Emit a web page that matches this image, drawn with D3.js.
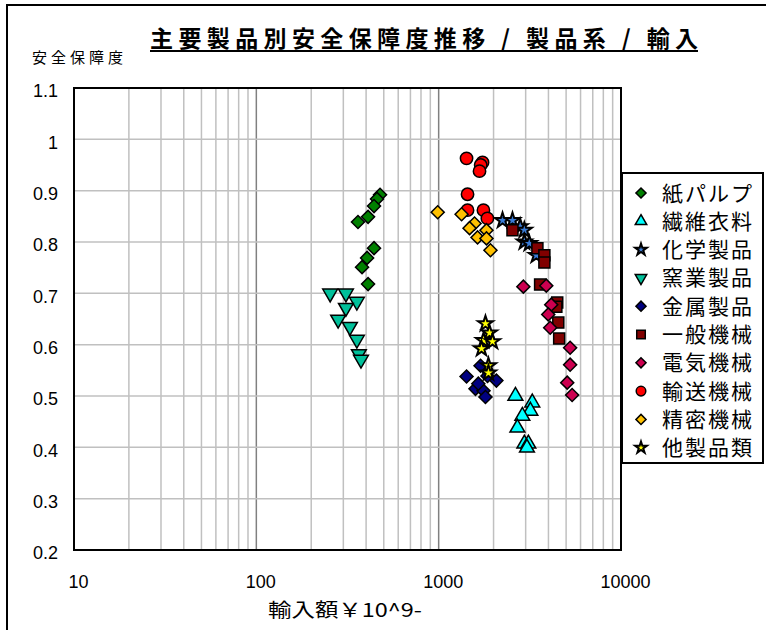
<!DOCTYPE html>
<html>
<head>
<meta charset="utf-8">
<script src="https://cdn.jsdelivr.net/npm/d3@7"></script>
<style>
  body { margin: 0; background: #fff; }
  text { font-family: "Liberation Sans", Arial, "Noto Sans CJK JP", sans-serif; }
  .jp { font-family: "Noto Sans CJK JP", "Noto Sans CJK SC", sans-serif; }
</style>
</head>
<body>
<script>
// categories (legend order)
var categories = ["紙パルプ", "繊維衣料", "化学製品", "窯業製品", "金属製品",
                  "一般機械", "電気機械", "輸送機械", "精密機械", "他製品類"];

// [輸入額, 安全保障度] per category
var pulp     = [[477,0.892],[459,0.884],[442,0.870],[410,0.849],[361,0.839],[442,0.788],[405,0.769],[380,0.751],[410,0.718]];
var textile  = [[2636,0.500],[3262,0.487],[3184,0.471],[2877,0.461],[2703,0.438],[2951,0.407],[3103,0.407],[3050,0.399]];
var chemical = [[2240,0.842],[2540,0.842],[2800,0.830],[2950,0.823],[2950,0.800],[3140,0.797],[3430,0.774]];
var ceramic  = [[254,0.700],[310,0.700],[356,0.684],[310,0.672],[281,0.649],[326,0.635],[356,0.610],[365,0.582],[375,0.571]];
var metal    = [[1422,0.538],[1697,0.559],[1853,0.539],[2073,0.530],[1592,0.514],[1762,0.510],[1806,0.498],[1650,0.524]];
var machine  = [[2540,0.823],[3480,0.788],[3800,0.774],[3800,0.760],[3600,0.717],[4470,0.682],[4420,0.674],[4530,0.643],[4580,0.612]];
var electric = [[2914,0.713],[3892,0.715],[4144,0.678],[3990,0.659],[4090,0.633],[5260,0.594],[5260,0.561],[5070,0.526],[5395,0.502]];
var transport= [[1422,0.963],[1740,0.955],[1700,0.950],[1675,0.938],[1440,0.893],[1440,0.862],[1760,0.862],[1850,0.846]];
var precision= [[988,0.858],[1336,0.854],[1573,0.836],[1477,0.827],[1829,0.823],[1634,0.809],[1829,0.807],[1923,0.784]];
var others   = [[1806,0.641],[1900,0.623],[1762,0.608],[1973,0.606],[1718,0.592],[1875,0.559],[1875,0.545]];

var xTicks = [10, 100, 1000, 10000];
var yTicks = [0.2, 0.3, 0.4, 0.5, 0.6, 0.7, 0.8, 0.9, 1, 1.1];

var seriesData = [pulp, textile, chemical, ceramic, metal, machine, electric, transport, precision, others];

// marker styles
var styles = [
  {shape: "diamond", fill: "#008000"},
  {shape: "triUp",   fill: "#00ffff"},
  {shape: "star",    fill: "#3a7bd5"},
  {shape: "triDown", fill: "#00c09a"},
  {shape: "diamond", fill: "#000080"},
  {shape: "square",  fill: "#800000"},
  {shape: "diamond", fill: "#cc0050"},
  {shape: "circle",  fill: "#ff0000"},
  {shape: "diamond", fill: "#ffc000"},
  {shape: "star",    fill: "#ffff00"}
];

var W = 766, H = 630;
var svg = d3.select("body")
  .append("svg")
  .attr("width", W)
  .attr("height", H);

// outer frame (right & bottom edges fall off the picture)
svg.append("rect")
  .attr("x", 7).attr("y", 5)
  .attr("width", 900).attr("height", 900)
  .attr("fill", "#fff")
  .attr("stroke", "#000")
  .attr("stroke-width", 2);

var pLeft = 74, pRight = 621, pTop = 88, pBottom = 550;

var x = d3.scaleLog().domain([10, 10000]).range([pLeft, pRight]);
var y = d3.scaleLinear().domain([0.2, 1.1]).range([pBottom, pTop]);

// grid
var grid = svg.append("g");
x.ticks().filter(function(d) { return d > 10 && d < 10000; }).forEach(function(d) {
  var major = Math.abs(Math.log10(d) - Math.round(Math.log10(d))) < 1e-9;
  grid.append("line")
    .attr("x1", x(d)).attr("x2", x(d))
    .attr("y1", pTop).attr("y2", pBottom)
    .attr("stroke", major ? "#808080" : "#c0c0c0")
    .attr("stroke-width", 1.5);
});
yTicks.filter(function(d) { return d > 0.2 && d < 1.1; }).forEach(function(d) {
  grid.append("line")
    .attr("x1", pLeft).attr("x2", pRight)
    .attr("y1", y(d)).attr("y2", y(d))
    .attr("stroke", "#c0c0c0")
    .attr("stroke-width", 1.5);
});

// plot border
svg.append("rect")
  .attr("x", pLeft).attr("y", pTop)
  .attr("width", pRight - pLeft).attr("height", pBottom - pTop)
  .attr("fill", "none")
  .attr("stroke", "#000")
  .attr("stroke-width", 2);

// axes
var xAxis = svg.append("g")
  .attr("transform", "translate(4," + (pBottom + 32) + ")")
  .call(d3.axisBottom(x).tickValues(xTicks).tickSize(0).tickFormat(d3.format("d")));
xAxis.select(".domain").remove();
xAxis.selectAll("text")
  .attr("dy", "0.35em").attr("y", 0)
  .style("font-size", "18px").style("fill", "#000");

var yAxis = svg.append("g")
  .attr("transform", "translate(" + 58 + ",3)")
  .call(d3.axisLeft(y).tickValues(yTicks).tickSize(0).tickFormat(function(d) { return String(d); }));
yAxis.select(".domain").remove();
yAxis.selectAll("text")
  .attr("x", 0)
  .style("font-size", "18px").style("fill", "#000");

// symbols
function symbolPath(shape, big) {
  var s = big ? 1 : 0.6;
  if (shape === "diamond") return d3.symbol(d3.symbolSquare, 85 * s)();
  if (shape === "square") return d3.symbol(d3.symbolSquare, 121 * s)();
  if (shape === "circle") return d3.symbol(d3.symbolCircle, 120 * s)();
  if (shape === "triUp" || shape === "triDown") return d3.symbol(d3.symbolTriangle, 95 * s)();
  return d3.symbol(d3.symbolStar, 70 * s)();
}
function rot(shape) {
  if (shape === "diamond") return " rotate(45)";
  if (shape === "triDown") return " rotate(180)";
  return "";
}

seriesData.forEach(function(data, i) {
  var st = styles[i];
  svg.append("g").selectAll("path")
    .data(data)
    .enter().append("path")
    .attr("d", symbolPath(st.shape, true))
    .attr("transform", function(d) { return "translate(" + x(d[0]) + "," + y(d[1]) + ")" + rot(st.shape); })
    .attr("fill", st.fill)
    .attr("stroke", "#000")
    .attr("stroke-width", st.shape === "star" ? 2 : 1.5)
    .attr("stroke-linejoin", "miter");
});

// legend
var lg = svg.append("g");
lg.append("rect")
  .attr("x", 622).attr("y", 173)
  .attr("width", 141).attr("height", 290)
  .attr("fill", "#fff")
  .attr("stroke", "#000")
  .attr("stroke-width", 2);
categories.forEach(function(c, i) {
  var st = styles[i];
  var cy = 193 + i * 28.3;
  lg.append("path")
    .attr("d", symbolPath(st.shape, false))
    .attr("transform", "translate(641," + cy + ")" + rot(st.shape))
    .attr("fill", st.fill)
    .attr("stroke", "#000")
    .attr("stroke-width", st.shape === "star" ? 2 : 1.5);
  lg.append("text")
    .attr("class", "jp")
    .attr("x", 662).attr("y", cy)
    .attr("dy", "0.36em")
    .attr("textLength", 90)
    .attr("lengthAdjust", "spacing")
    .style("font-size", "21px")
    .text(c);
});

// title
svg.append("text")
  .attr("class", "jp")
  .attr("x", 150).attr("y", 47)
  .attr("textLength", 548)
  .attr("lengthAdjust", "spacing")
  .style("font-size", "23px")
  .style("font-weight", "bold")
  .text("主要製品別安全保障度推移 / 製品系 / 輸入");
svg.append("line")
  .attr("x1", 150).attr("x2", 698)
  .attr("y1", 51).attr("y2", 51)
  .attr("stroke", "#000").attr("stroke-width", 2);

// axis titles
svg.append("text")
  .attr("class", "jp")
  .attr("x", 32).attr("y", 63)
  .attr("textLength", 91)
  .attr("lengthAdjust", "spacing")
  .style("font-size", "15px")
  .text("安全保障度");

svg.append("text")
  .attr("class", "jp")
  .attr("x", 268).attr("y", 617)
  .attr("textLength", 154)
  .attr("lengthAdjust", "spacingAndGlyphs")
  .style("font-size", "19px")
  .text("輸入額￥10^9-");
</script>
</body>
</html>
